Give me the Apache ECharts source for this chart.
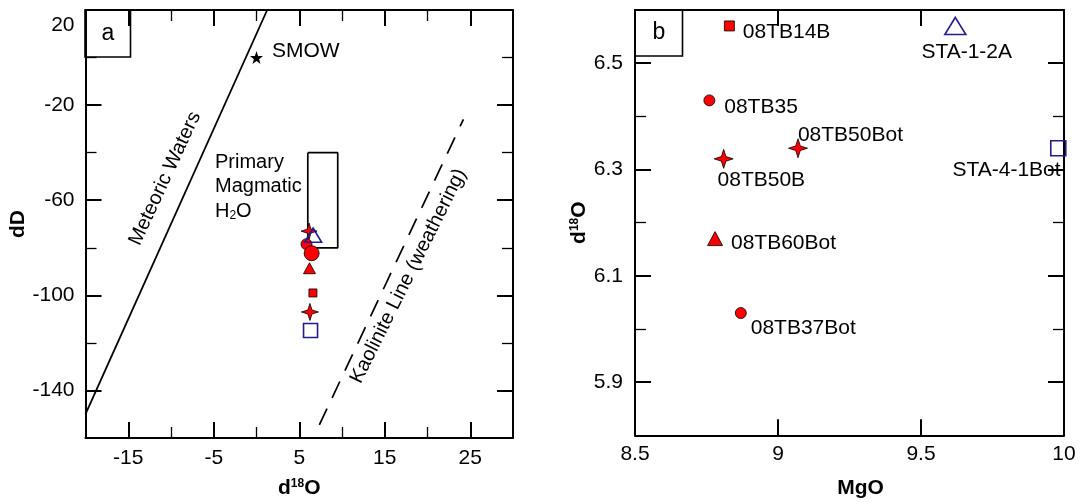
<!DOCTYPE html>
<html>
<head>
<meta charset="utf-8">
<script src="https://cdn.jsdelivr.net/npm/echarts@6/dist/echarts.min.js"></script>
<style>html,body{margin:0;padding:0;background:#fff}#c{width:1080px;height:504px}</style>
</head>
<body>
<div id="c"></div>
<script>
// ---------- Panel a : dD vs d18O ----------
const aXTickLabels = [-15, -5, 5, 15, 25];
const aXMinorTicks = [-10, 0, 10, 20];
const aYTickLabels = [-140, -100, -60, -20, 20];
const aYMajorTicks = [-140, -100, -60, -20];
const aYMinorTicks = [-120, -80, -40, 0];
const meteoricLine = [[-20, -150], [1.25, 20]];
const kaoliniteLine = [[7.35, -154.5], [24.2, -26]];
const magmaticBox = [[6, -40], [9.5, -40], [9.5, -80], [6, -80], [6, -40]];
const smow = [[0, 0]];
const aStars = [[6.15, -73], [6.25, -107]];
const aCircleSmall = [[5.85, -78.5]];
const aCircleBig = [[6.45, -82.3]];
const aTriangle = [[6.2, -88.6]];
const aSquare = [[6.6, -99]];
const aOpenTriangle = [[6.62, -74.7]];
const aOpenSquare = [[6.32, -114.8]];

// ---------- Panel b : d18O vs MgO ----------
const bXTickLabels = [8.5, 9, 9.5, 10];
const bXMajorTicks = [9, 9.5];
const bYTickLabels = [5.9, 6.1, 6.3, 6.5];
const bYMinorTicks = [6.0, 6.2, 6.4];
const sampleNames = ['08TB14B', '08TB35', '08TB50B', '08TB50Bot', '08TB60Bot', '08TB37Bot', 'STA-1-2A', 'STA-4-1Bot'];
const sampleMgO   = [8.83, 8.76, 8.81, 9.07, 8.78, 8.87, 9.62, 9.98];
const sampleD18O  = [6.57, 6.43, 6.32, 6.34, 6.17, 6.03, 6.57, 6.34];

// ---------- styles ----------
const FONT = 'Liberation Sans, Arial, Helvetica, sans-serif';
const FS = 21;
const RED = '#ff0000';
const BLUE = '#231c8c';
const STAR4 = 'path://M0,-10 L2.4,-2.4 L10,0 L2.4,2.4 L0,10 L-2.4,2.4 L-10,0 L-2.4,-2.4 Z';
const STAR5 = 'path://M0,-10 L2.35,-3.24 L9.51,-3.09 L3.8,1.24 L5.88,8.09 L0,4 L-5.88,8.09 L-3.8,1.24 L-9.51,-3.09 L-2.35,-3.24 Z';

const sampleStyle = {
  '08TB14B':   {symbol: 'rect', size: 10, fill: RED, stroke: '#000', lw: 0.8, off: [8, 6], align: 'left'},
  '08TB35':    {symbol: 'circle', size: 11, fill: RED, stroke: '#000', lw: 0.8, off: [9, 7], align: 'left'},
  '08TB50B':   {symbol: STAR4, size: 19, fill: RED, stroke: '#000', lw: 0.8, off: [-16, 21], align: 'left'},
  '08TB50Bot': {symbol: STAR4, size: 19, fill: RED, stroke: '#000', lw: 0.8, off: [-10, -13], align: 'left'},
  '08TB60Bot': {symbol: 'triangle', size: [15, 14], fill: RED, stroke: '#000', lw: 0.8, off: [8, 5], align: 'left'},
  '08TB37Bot': {symbol: 'circle', size: 11, fill: RED, stroke: '#000', lw: 0.8, off: [4, 15], align: 'left'},
  'STA-1-2A':  {symbol: 'triangle', size: [21, 17], fill: 'rgba(0,0,0,0)', stroke: BLUE, lw: 1.6, off: [0, 26], align: 'center'},
  'STA-4-1Bot':{symbol: 'rect', size: 15, fill: 'rgba(0,0,0,0)', stroke: BLUE, lw: 1.6, off: [-6, 22], align: 'right'}
};

const labelText = {fontFamily: FONT, fontSize: FS, color: '#000'};
const nameRich = {
  n: {fontFamily: FONT, fontSize: 21, fontWeight: 'bold', color: '#000'},
  s: {fontFamily: FONT, fontSize: 12, fontWeight: 'bold', color: '#000', padding: [0, 0, 9, 0]}
};

function frameAxis(o) {
  const ax = {
    type: 'value', gridIndex: o.grid, position: o.pos, min: o.min, max: o.max, interval: o.interval,
    splitLine: {show: false},
    axisLine: {show: !!o.line, onZero: false, lineStyle: {color: '#000', width: 2}},
    axisTick: {show: !!o.ticks, inside: true, length: o.tickLen || 16, customValues: o.ticks || [],
               lineStyle: {color: '#000', width: o.tickW || 2}},
    axisLabel: o.labels ? Object.assign({show: true, customValues: o.labels, margin: o.margin || 10,
               formatter: o.fmt || (v => String(v))}, labelText, {rich: o.rich || {}}) : {show: false}
  };
  if (o.name) {
    ax.name = o.name; ax.nameLocation = 'middle'; ax.nameGap = o.nameGap;
    ax.nameTextStyle = {rich: nameRich, padding: o.namePad || 0};
  }
  return ax;
}

const xAxes = [
  // panel a
  frameAxis({grid: 0, pos: 'bottom', min: -20, max: 30, interval: 5, ticks: aXTickLabels, labels: aXTickLabels, line: true,
             name: '{n|d}{s|18}{n|O}', nameGap: 40, margin: 10}),
  frameAxis({grid: 0, pos: 'bottom', min: -20, max: 30, interval: 5, ticks: aXMinorTicks, tickLen: 11, tickW: 1.3}),
  frameAxis({grid: 0, pos: 'top', min: -20, max: 30, interval: 5, ticks: aXTickLabels, line: true}),
  frameAxis({grid: 0, pos: 'top', min: -20, max: 30, interval: 5, ticks: aXMinorTicks, tickLen: 11, tickW: 1.3}),
  // panel b
  frameAxis({grid: 1, pos: 'bottom', min: 8.5, max: 10, interval: 0.5, ticks: bXMajorTicks, labels: bXTickLabels, line: true,
             name: '{n|MgO}', nameGap: 42, margin: 8, namePad: [0, 0, 0, 22]}),
  frameAxis({grid: 1, pos: 'top', min: 8.5, max: 10, interval: 0.5, ticks: bXMajorTicks, line: true})
];

const yAxes = [
  // panel a
  frameAxis({grid: 0, pos: 'left', min: -160, max: 20, interval: 20, ticks: aYMajorTicks, labels: aYTickLabels, line: true,
             name: '{n|dD}', nameGap: 43, margin: 11,
             fmt: v => (v === 20 ? '{t|20}' : String(v)),
             rich: {t: {fontFamily: FONT, fontSize: FS, color: '#000', padding: [30, 0, 0, 0]}}}),
  frameAxis({grid: 0, pos: 'left', min: -160, max: 20, interval: 20, ticks: aYMinorTicks, tickLen: 11, tickW: 1.3}),
  frameAxis({grid: 0, pos: 'right', min: -160, max: 20, interval: 20, ticks: aYMajorTicks, line: true}),
  frameAxis({grid: 0, pos: 'right', min: -160, max: 20, interval: 20, ticks: aYMinorTicks, tickLen: 11, tickW: 1.3}),
  // panel b
  frameAxis({grid: 1, pos: 'left', min: 5.8, max: 6.6, interval: 0.1, ticks: bYTickLabels, labels: bYTickLabels, line: true,
             name: '{n|d}{s|18}{n|O}', nameGap: 45, margin: 12, fmt: v => v.toFixed(1)}),
  frameAxis({grid: 1, pos: 'left', min: 5.8, max: 6.6, interval: 0.1, ticks: bYMinorTicks, tickLen: 11, tickW: 1.3}),
  frameAxis({grid: 1, pos: 'right', min: 5.8, max: 6.6, interval: 0.1, ticks: bYTickLabels, line: true}),
  frameAxis({grid: 1, pos: 'right', min: 5.8, max: 6.6, interval: 0.1, ticks: bYMinorTicks, tickLen: 11, tickW: 1.3})
];

function aScatter(data, symbol, size, fill, stroke, lw) {
  return {type: 'scatter', xAxisIndex: 0, yAxisIndex: 0, data: data, symbol: symbol, symbolSize: size,
          itemStyle: {color: fill, borderColor: stroke, borderWidth: lw, opacity: 1}, z: 5, silent: true};
}

const series = [
  {type: 'line', xAxisIndex: 0, yAxisIndex: 0, data: meteoricLine, showSymbol: false, symbol: 'none',
   lineStyle: {color: '#000', width: 1.8}, silent: true},
  {type: 'line', xAxisIndex: 0, yAxisIndex: 0, data: kaoliniteLine, showSymbol: false, symbol: 'none',
   lineStyle: {color: '#000', width: 1.7, type: [18, 12]}, silent: true},
  {type: 'line', xAxisIndex: 0, yAxisIndex: 0, data: magmaticBox, showSymbol: false, symbol: 'none',
   lineStyle: {color: '#000', width: 1.7}, silent: true},
  {type: 'scatter', xAxisIndex: 0, yAxisIndex: 0, data: smow, symbol: STAR5, symbolSize: 13,
   itemStyle: {color: '#000', opacity: 1}, silent: true,
   label: Object.assign({show: true, position: 'right', distance: 0, offset: [9, -6], formatter: 'SMOW'}, labelText)},
  aScatter(aStars.slice(0, 1), STAR4, 16, RED, '#000', 0.8),
  aScatter(aCircleSmall, 'circle', 11, RED, '#000', 0.8),
  aScatter(aCircleBig, 'circle', 15, RED, '#000', 0.8),
  aScatter(aTriangle, 'triangle', [12, 11], RED, '#000', 0.8),
  aScatter(aSquare, 'rect', 8, RED, '#000', 0.8),
  aScatter(aStars.slice(1), STAR4, 17, RED, '#000', 0.8),
  aScatter(aOpenTriangle, 'triangle', [17, 14], 'rgba(0,0,0,0)', BLUE, 1.6),
  aScatter(aOpenSquare, 'rect', 14, 'rgba(0,0,0,0)', BLUE, 1.6)
];

sampleNames.forEach((name, i) => {
  const st = sampleStyle[name];
  series.push({
    type: 'scatter', name: name, xAxisIndex: 4, yAxisIndex: 4, silent: true, z: 5,
    data: [[sampleMgO[i], sampleD18O[i]]],
    symbol: st.symbol, symbolSize: st.size,
    itemStyle: {color: st.fill, borderColor: st.stroke, borderWidth: st.lw, opacity: 1},
    label: Object.assign({show: true, position: 'right', distance: 0, offset: st.off, align: st.align,
                          verticalAlign: 'middle', formatter: name}, labelText)
  });
});

const txt = (x, y, text, rot, size) => ({
  type: 'text', x: x, y: y, rotation: rot || 0, z: 10, silent: true,
  style: {text: text, font: (size || FS) + 'px ' + FONT, fontFamily: FONT, fontSize: size || FS, fill: '#000',
          align: 'center', verticalAlign: 'middle', textAlign: 'center', textVerticalAlign: 'middle'}
});
const deg = d => d * Math.PI / 180;

const option = {
  backgroundColor: '#fff',
  animation: false,
  textStyle: {fontFamily: FONT},
  grid: [
    {left: 85.5, top: 10, width: 427.5, height: 428.3, containLabel: false},
    {left: 635, top: 10, width: 429, height: 425.3, containLabel: false}
  ],
  xAxis: xAxes,
  yAxis: yAxes,
  series: series,
  graphic: [
    {type: 'rect', shape: {x: 85, y: 10, width: 45.5, height: 47}, style: {fill: 'none', stroke: '#000', lineWidth: 1.6}, z: 10, silent: true},
    txt(108, 34, 'a', 0, 23),
    {type: 'rect', shape: {x: 635, y: 10, width: 47.5, height: 46}, style: {fill: 'none', stroke: '#000', lineWidth: 1.6}, z: 10, silent: true},
    txt(659, 33, 'b', 0, 23),
    txt(165, 178.5, 'Meteoric Waters', deg(65), 20),
    txt(408.5, 276, 'Kaolinite Line (weathering)', deg(63.5), 20),
    {type: 'text', x: 215, y: 150, z: 10, silent: true,
     style: {text: 'Primary\nMagmatic\n{h|H}{sub|2}{h|O}', fontFamily: FONT, fontSize: 20, fill: '#000', lineHeight: 24.5,
             align: 'left', verticalAlign: 'top', textAlign: 'left', textVerticalAlign: 'top',
             rich: {h: {fontFamily: FONT, fontSize: 20, fill: '#000', color: '#000'},
                    sub: {fontFamily: FONT, fontSize: 12, fill: '#000', color: '#000', padding: [9, 0, 0, 0]}}}}
  ]
};

const chart = echarts.init(document.getElementById('c'), null, {renderer: 'canvas'});
chart.setOption(option);
</script>
</body>
</html>
